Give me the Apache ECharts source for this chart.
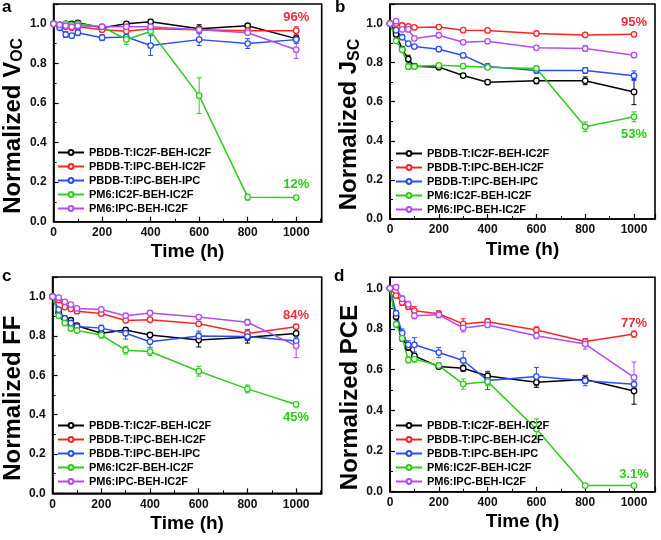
<!DOCTYPE html>
<html>
<head>
<meta charset="utf-8">
<script src="https://cdn.jsdelivr.net/npm/echarts@6/dist/echarts.min.js"></script>
<style>
html,body{margin:0;padding:0;background:#fff;}
#chart{width:661px;height:540px;}
</style>
</head>
<body>
<div id="chart"></div>
<script>
// ---------- data ----------
const times = [0, 25, 50, 75, 100, 200, 300, 400, 600, 800, 1000];
const seriesNames = ['PBDB-T:IC2F-BEH-IC2F', 'PBDB-T:IPC-BEH-IC2F', 'PBDB-T:IPC-BEH-IPC', 'PM6:IC2F-BEH-IC2F', 'PM6:IPC-BEH-IC2F'];
const xTicks = [0, 200, 400, 600, 800, 1000];
const yTicks = [0.0, 0.2, 0.4, 0.6, 0.8, 1.0];

// Voc
const vocBlack  = [1.0, 0.995, 1.0, 1.0, 1.005, 0.98, 1.0, 1.01, 0.975, 0.99, 0.925];
const vocRed    = [1.0, 0.99, 0.985, 0.98, 0.985, 0.97, 0.962, 0.975, 0.97, 0.965, 0.965];
const vocBlue   = [1.0, 0.98, 0.946, 0.94, 0.955, 0.93, 0.933, 0.89, 0.92, 0.9, 0.92];
const vocGreen  = [1.0, 0.995, 1.0, 0.995, 1.0, 0.985, 0.921, 0.961, 0.637, 0.124, 0.122];
const vocPurple = [1.0, 0.995, 0.99, 0.985, 0.99, 0.985, 0.985, 0.985, 0.97, 0.955, 0.869];
const vocBlackErr  = [0, 0.005, 0.005, 0.005, 0.01, 0.01, 0.01, 0.01, 0.02, 0.01, 0.015];
const vocRedErr    = [0, 0.005, 0.005, 0.01, 0.01, 0.01, 0.01, 0.01, 0.01, 0.01, 0.02];
const vocBlueErr   = [0, 0.01, 0.015, 0.01, 0.015, 0.015, 0.01, 0.05, 0.03, 0.025, 0.02];
const vocGreenErr  = [0, 0.005, 0.005, 0.005, 0.005, 0.01, 0.025, 0.01, 0.09, 0.015, 0.01];
const vocPurpleErr = [0, 0.01, 0.005, 0.005, 0.01, 0.01, 0.01, 0.01, 0.01, 0.01, 0.045];

// Jsc
const jscBlack  = [1.0, 0.945, 0.869, 0.818, 0.782, 0.777, 0.734, 0.7, 0.707, 0.707, 0.65];
const jscRed    = [1.0, 1.0, 0.99, 0.985, 0.98, 0.982, 0.966, 0.965, 0.949, 0.942, 0.945];
const jscBlue   = [1.0, 0.966, 0.93, 0.897, 0.882, 0.869, 0.837, 0.78, 0.76, 0.76, 0.733];
const jscGreen  = [1.0, 0.911, 0.866, 0.78, 0.78, 0.786, 0.782, 0.776, 0.77, 0.472, 0.523];
const jscPurple = [1.0, 1.012, 0.97, 0.97, 0.924, 0.94, 0.904, 0.909, 0.876, 0.872, 0.838];
const jscBlackErr  = [0, 0.01, 0.01, 0.02, 0.01, 0.01, 0.01, 0.01, 0.015, 0.02, 0.065];
const jscRedErr    = [0, 0.005, 0.005, 0.005, 0.005, 0.005, 0.005, 0.005, 0.005, 0.005, 0.005];
const jscBlueErr   = [0, 0.01, 0.01, 0.01, 0.01, 0.01, 0.01, 0.015, 0.015, 0.015, 0.025];
const jscGreenErr  = [0, 0.01, 0.01, 0.015, 0.01, 0.01, 0.01, 0.01, 0.01, 0.025, 0.025];
const jscPurpleErr = [0, 0.01, 0.01, 0.01, 0.01, 0.01, 0.01, 0.01, 0.01, 0.015, 0.01];

// FF
const ffBlack  = [1.0, 0.92, 0.89, 0.88, 0.852, 0.814, 0.83, 0.805, 0.779, 0.794, 0.813];
const ffRed    = [1.0, 0.983, 0.947, 0.938, 0.926, 0.914, 0.879, 0.883, 0.862, 0.813, 0.847];
const ffBlue   = [1.0, 0.934, 0.89, 0.866, 0.848, 0.84, 0.814, 0.771, 0.8, 0.797, 0.774];
const ffGreen  = [1.0, 0.903, 0.866, 0.838, 0.828, 0.805, 0.728, 0.721, 0.621, 0.531, 0.452];
const ffPurple = [1.0, 0.995, 0.974, 0.96, 0.94, 0.935, 0.903, 0.917, 0.896, 0.87, 0.75];
const ffBlackErr  = [0, 0.01, 0.01, 0.01, 0.01, 0.01, 0.01, 0.01, 0.035, 0.03, 0.01];
const ffRedErr    = [0, 0.01, 0.01, 0.01, 0.01, 0.01, 0.01, 0.01, 0.01, 0.02, 0.01];
const ffBlueErr   = [0, 0.01, 0.01, 0.01, 0.015, 0.015, 0.03, 0.03, 0.025, 0.02, 0.02];
const ffGreenErr  = [0, 0.01, 0.01, 0.01, 0.01, 0.015, 0.02, 0.02, 0.025, 0.02, 0.005];
const ffPurpleErr = [0, 0.01, 0.01, 0.01, 0.01, 0.01, 0.01, 0.01, 0.01, 0.015, 0.06];

// PCE
const pceBlack  = [1.0, 0.86, 0.754, 0.71, 0.668, 0.615, 0.607, 0.569, 0.538, 0.552, 0.495];
const pceRed    = [1.0, 0.964, 0.93, 0.91, 0.89, 0.875, 0.825, 0.836, 0.795, 0.738, 0.775];
const pceBlue   = [1.0, 0.877, 0.78, 0.722, 0.722, 0.684, 0.645, 0.547, 0.566, 0.546, 0.528];
const pceGreen  = [1.0, 0.823, 0.754, 0.648, 0.652, 0.62, 0.529, 0.541, 0.308, 0.03, 0.03];
const pcePurple = [1.0, 1.005, 0.948, 0.921, 0.865, 0.87, 0.805, 0.82, 0.767, 0.726, 0.562];
const pceBlackErr  = [0, 0.01, 0.01, 0.015, 0.01, 0.01, 0.015, 0.02, 0.025, 0.02, 0.065];
const pceRedErr    = [0, 0.01, 0.015, 0.015, 0.02, 0.015, 0.025, 0.015, 0.015, 0.015, 0.015];
const pceBlueErr   = [0, 0.015, 0.02, 0.02, 0.035, 0.025, 0.045, 0.045, 0.045, 0.025, 0.015];
const pceGreenErr  = [0, 0.015, 0.015, 0.015, 0.015, 0.015, 0.025, 0.02, 0.05, 0.005, 0.005];
const pcePurpleErr = [0, 0.01, 0.015, 0.015, 0.015, 0.015, 0.02, 0.01, 0.015, 0.025, 0.075];

const panelLetters = ['a', 'b', 'c', 'd'];
const yTitles = [['Normalized V', 'OC'], ['Normalized J', 'SC'], ['Normalized FF', ''], ['Normalized PCE', '']];
const xTitle = 'Time (h)';
const percentLabels = [
  [[1, '96%'], [3, '12%']],
  [[1, '95%'], [3, '53%']],
  [[1, '84%'], [3, '45%']],
  [[1, '77%'], [3, '3.1%']]
];

const panelValues = [
  [vocBlack, vocRed, vocBlue, vocGreen, vocPurple],
  [jscBlack, jscRed, jscBlue, jscGreen, jscPurple],
  [ffBlack, ffRed, ffBlue, ffGreen, ffPurple],
  [pceBlack, pceRed, pceBlue, pceGreen, pcePurple]
];
const panelErrors = [
  [vocBlackErr, vocRedErr, vocBlueErr, vocGreenErr, vocPurpleErr],
  [jscBlackErr, jscRedErr, jscBlueErr, jscGreenErr, jscPurpleErr],
  [ffBlackErr, ffRedErr, ffBlueErr, ffGreenErr, ffPurpleErr],
  [pceBlackErr, pceRedErr, pceBlueErr, pceGreenErr, pcePurpleErr]
];

// ---------- layout & style ----------
const colors = ['#000000', '#ff2424', '#2a4ff0', '#2fcc1c', '#b24cf2'];
const labelColors = ['#000', '#f22a3c', '#2a4ff0', '#2ec81e', '#b24cf2'];
const FONT = "'Liberation Sans', Arial, Helvetica, sans-serif";
const grids = [
  { left: 51.7, top: 4,     width: 270, height: 217.7, xMax: 1105, yMax: 1.1 },
  { left: 390,  top: 4,     width: 265, height: 215,   xMax: 1086, yMax: 1.1 },
  { left: 51.7, top: 277,   width: 270, height: 216.3, xMax: 1105, yMax: 1.1 },
  { left: 390,  top: 277.3, width: 265, height: 214.4, xMax: 1086, yMax: 1.054 }
];
const legendPos = [
  { left: 57, top: 147 },
  { left: 395, top: 148 },
  { left: 57, top: 420 },
  { left: 395, top: 420 }
];
const letterPos = [[2, -1], [335, -1], [2, 268], [334, 268]];
// label placement: [position, distance]
const labelPlacement = [
  [['top', 3], ['top', 3]],
  [['top', 2], ['bottom', 8]],
  [['top', 1], ['bottom', 3]],
  [['top', 1], ['top', 1]]
];

function xFmt(v) { return xTicks.indexOf(Math.round(v)) >= 0 && Math.abs(v - Math.round(v)) < 1e-6 ? String(Math.round(v)) : ''; }
function yFmt(v) {
  for (const t of yTicks) if (Math.abs(v - t) < 1e-6) return t.toFixed(1);
  return '';
}

function errorRender(params, api) {
  const x = api.value(0), y = api.value(1), e = api.value(2);
  const hi = api.coord([x, y + e]);
  const lo = api.coord([x, y - e]);
  const w = 2.5;
  const st = { stroke: api.visual('color'), lineWidth: 1 };
  return {
    type: 'group',
    children: [
      { type: 'line', shape: { x1: hi[0], y1: hi[1], x2: lo[0], y2: lo[1] }, style: st },
      { type: 'line', shape: { x1: hi[0] - w, y1: hi[1], x2: hi[0] + w, y2: hi[1] }, style: st },
      { type: 'line', shape: { x1: lo[0] - w, y1: lo[1], x2: lo[0] + w, y2: lo[1] }, style: st }
    ]
  };
}

const option = {
  animation: false,
  backgroundColor: '#fff',
  textStyle: { fontFamily: FONT },
  grid: [], xAxis: [], yAxis: [], series: [], legend: [], graphic: []
};

grids.forEach((g, p) => {
  option.grid.push({ left: g.left, top: g.top, width: g.width, height: g.height, show: true, borderColor: '#000', borderWidth: 1.6, backgroundColor: 'transparent' });
  option.xAxis.push({
    type: 'value', gridIndex: p, min: 0, max: g.xMax, interval: 200,
    name: xTitle, nameLocation: 'middle', nameGap: 21,
    nameTextStyle: { fontFamily: FONT, fontWeight: 'bold', fontSize: 19, color: '#000' },
    axisLine: { show: true, lineStyle: { color: '#000', width: 1.6 } },
    axisTick: { show: true, inside: true, length: 5, lineStyle: { color: '#000', width: 1.2 } },
    minorTick: { show: true, splitNumber: 2, length: 3, lineStyle: { color: '#000', width: 1 } },
    splitLine: { show: false },
    axisLabel: { formatter: xFmt, fontFamily: FONT, fontWeight: 'bold', fontSize: 12, color: '#111', margin: 5 }
  });
  const yt = yTitles[p];
  option.yAxis.push({
    type: 'value', gridIndex: p, min: 0, max: g.yMax, interval: 0.2,
    name: yt[1] ? '{m|' + yt[0] + '}{s|' + yt[1] + '}' : '{m|' + yt[0] + '}',
    nameLocation: 'middle', nameGap: 22,
    nameTextStyle: {
      padding: [0, 26, 0, 0],
      rich: {
        m: { fontFamily: FONT, fontWeight: 'bold', fontSize: 24, color: '#000' },
        s: { fontFamily: FONT, fontWeight: 'bold', fontSize: 16, color: '#000', padding: [10, 0, 0, 0] }
      }
    },
    axisLine: { show: true, lineStyle: { color: '#000', width: 1.6 } },
    axisTick: { show: true, inside: true, length: 5, lineStyle: { color: '#000', width: 1.2 } },
    minorTick: { show: true, splitNumber: 2, length: 3, lineStyle: { color: '#000', width: 1 } },
    splitLine: { show: false },
    axisLabel: { formatter: yFmt, fontFamily: FONT, fontWeight: 'bold', fontSize: 12, color: '#111', margin: 7 }
  });

  // error bars (drawn first, beneath lines)
  panelValues[p].forEach((vals, s) => {
    const errs = panelErrors[p][s];
    const d = [];
    vals.forEach((v, i) => { if (errs[i] > 0) d.push([times[i], v, errs[i]]); });
    option.series.push({
      type: 'custom', name: 'err' + p + s, xAxisIndex: p, yAxisIndex: p,
      renderItem: errorRender, itemStyle: { color: colors[s] }, silent: true, z: 1,
      encode: { x: 0, y: 1 }, data: d
    });
  });

  panelValues[p].forEach((vals, s) => {
    const lbls = percentLabels[p];
    const data = vals.map((v, i) => {
      const item = { value: [times[i], v] };
      if (i === vals.length - 1) {
        lbls.forEach((l, k) => {
          if (l[0] === s) {
            const pl = labelPlacement[p][k];
            item.label = { show: true, formatter: l[1], position: pl[0], distance: pl[1], color: labelColors[s], fontFamily: FONT, fontWeight: 'bold', fontSize: 13 };
          }
        });
      }
      return item;
    });
    option.series.push({
      type: 'line', name: seriesNames[s], xAxisIndex: p, yAxisIndex: p, z: 3,
      data: data, symbol: 'circle', symbolSize: 5.5, showSymbol: true,
      lineStyle: { color: colors[s], width: 1.5 },
      itemStyle: { color: '#ffffff', borderColor: colors[s], borderWidth: 1.3 },
      emphasis: { disabled: true }
    });
  });

  option.legend.push({
    left: legendPos[p].left, top: legendPos[p].top, orient: 'vertical',
    data: seriesNames, itemWidth: 26, itemHeight: 6, itemGap: 3, padding: 0,
    selectedMode: false,
    textStyle: { fontFamily: FONT, fontWeight: 'bold', fontSize: 11, color: '#000', lineHeight: 10 }
  });

  option.graphic.push({
    type: 'text', left: letterPos[p][0], top: letterPos[p][1],
    style: { text: panelLetters[p], font: 'bold 17px ' + FONT, fill: '#000' }
  });
});

const chart = echarts.init(document.getElementById('chart'), null, { renderer: 'canvas' });
chart.setOption(option);
</script>
</body>
</html>
